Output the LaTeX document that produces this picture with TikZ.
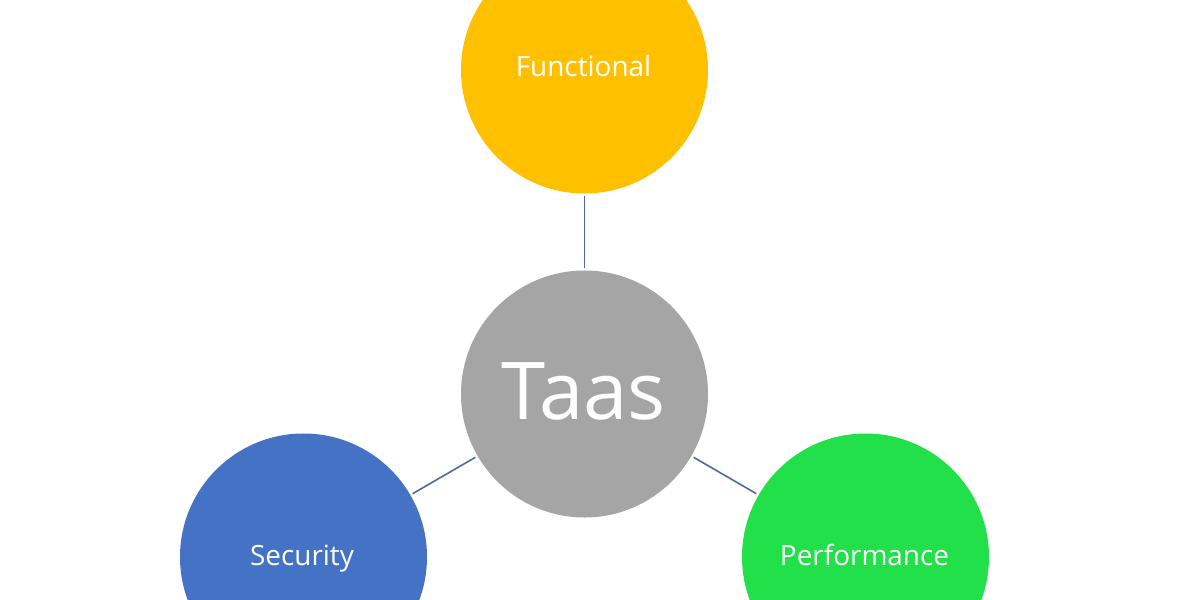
\documentclass[tikz,border=0pt]{standalone}
\usepackage{fontspec}
\setmainfont{Open Sans}
\tikzset{
 hub/.style={circle,minimum size=247bp,inner sep=0pt,text=white},
 link/.style={draw=#1,line width=1.6bp,shorten >=2.5bp,shorten <=2.5bp},
 small/.style={text=white,anchor=base,inner sep=0pt,font=\fontsize{28}{32}\selectfont},
}
\definecolor{cgold}{HTML}{FFC000}
\definecolor{cgrey}{HTML}{A5A5A5}
\definecolor{cblue}{HTML}{4472C4}
\definecolor{cgreen}{HTML}{22E04A}
\definecolor{clink}{HTML}{4F69A5}
\begin{document}
\begin{tikzpicture}[x=1bp,y=-1bp]
\path[use as bounding box,fill=white] (0,0) rectangle (1200,600);
\begin{scope}
\clip (0,0) rectangle (1200,600);
\node[hub,fill=cgold] (f) at (584.5,70) {};
\node[hub,fill=cgrey] (t) at (584.5,394) {};
\node[hub,fill=cblue] (s) at (303.5,557) {};
\node[hub,fill=cgreen] (p) at (865.5,557) {};
\draw[link=clink] (f) -- (t);
\draw[link=clink] (t) -- (s);
\draw[link=clink] (t) -- (p);
\end{scope}
\node[small] (fl) at (583.5,77) {Functional};
\node[text=white,anchor=base,inner sep=0pt,font=\fontsize{80}{100}\selectfont] (tl) at (583.5,419.5) {Taas};
\node[small] (sl) at (302,565) {Security};
\node[small] (pl) at (864.5,565) {Performance};
\end{tikzpicture}
\end{document}
